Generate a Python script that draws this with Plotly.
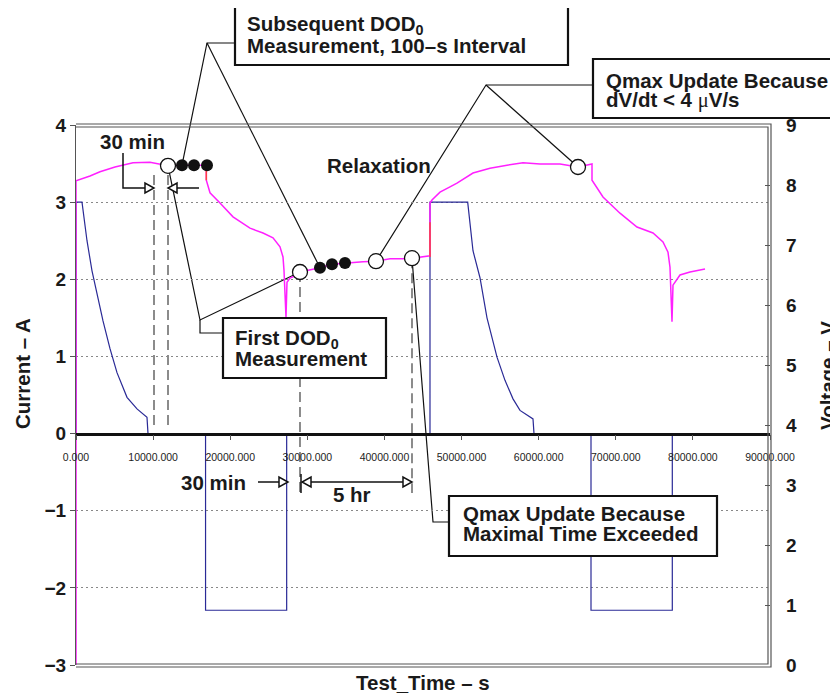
import plotly.graph_objects as go

# ---------------- data ----------------
# voltage trace (right axis, V) vs test time (s)
volt_time = [0, 0, 1816, 3112, 5058, 7392, 9597, 10893, 11930, 13746, 15302, 16900, 16900,
             17377, 18674, 20360, 22564, 24250, 25547, 26455, 26844, 26973, 27233, 27363,
             27752, 28659, 29048, 31642, 33198, 34884, 37218, 38904, 40720, 42405, 43573,
             45907, 45907, 46166, 47203, 48500, 49408, 51483, 53688, 55892, 57967, 60172,
             62766, 65100, 66916, 66916, 68341, 70546, 72751, 74826, 76122, 76771, 77030,
             77290, 77420, 78327, 79624, 81569]
volt = [0.0, 8.07, 8.15, 8.22, 8.30, 8.37, 8.38, 8.35, 8.32, 8.33, 8.33, 8.33, 8.08,
        7.87, 7.70, 7.47, 7.28, 7.20, 7.12, 6.97, 6.80, 6.58, 5.80, 6.38,
        6.45, 6.50, 6.55, 6.62, 6.68, 6.70, 6.72, 6.73, 6.77, 6.77, 6.78,
        6.82, 7.70, 7.75, 7.88, 7.97, 8.03, 8.20, 8.28, 8.33, 8.37, 8.35,
        8.35, 8.30, 8.35, 8.08, 7.80, 7.53, 7.30, 7.20, 7.05, 6.88, 6.63,
        5.72, 6.33, 6.50, 6.55, 6.60]

# current trace (left axis, A)
curr_time = [0, 0, 778, 1426, 2075, 2723, 3501, 4409, 5317, 6614, 7911, 9207, 9337,
             16800, 16800, 27320, 27320, 45907, 45907, 50795, 51483, 52391, 53299,
             54596, 55633, 56671, 57579, 59265, 59395, 66787, 66787, 77330, 77330, 82000]
curr = [0.0, 3.0, 3.0, 2.50, 2.11, 1.81, 1.46, 1.10, 0.79, 0.47, 0.32, 0.21, 0.0,
        0.0, -2.29, -2.29, 0.0, 0.0, 3.0, 3.0, 2.37, 2.02, 1.50,
        0.99, 0.69, 0.45, 0.30, 0.19, 0.0, 0.0, -2.29, -2.29, 0.0, 0.0]

# red voltage-step segments
red_time = [16900, 16900, None, 45907, 45907]
red_volt = [8.33, 8.08, None, 7.38, 6.80]

# measurement markers (voltage axis)
open_time = [11930, 29048, 38904, 43573, 65100]
open_volt = [8.32, 6.55, 6.73, 6.78, 8.30]
dot_time = [13746, 15302, 16988, 31642, 33198, 34884]
dot_volt = [8.33, 8.33, 8.33, 6.62, 6.68, 6.70]

x_ticks = [0, 10000, 20000, 30000, 40000, 50000, 60000, 70000, 80000, 90000]
x_ticklabels = ['0.000', '10000.000', '20000.000', '30000.000', '40000.000',
                '50000.000', '60000.000', '70000.000', '80000.000', '90000.000']
i_ticks = [-3, -2, -1, 0, 1, 2, 3, 4]
v_ticks = [0, 1, 2, 3, 4, 5, 6, 7, 8, 9]

X_MAX = 90000
I_MIN, I_MAX = -3, 4
V_MIN, V_MAX = 0, 9

# ---------------- geometry helpers (page pixel coords) ----------------
OFF = 8                      # browser body margin
W, H = 838 - OFF, 694 - OFF  # figure size
PL, PR, PT, PB = 76, 770, 125, 665   # plot area in page pixels
PW, PH = PR - PL, PB - PT


def px(x):
    return (x - PL) / PW


def py(y):
    return (PB - y) / PH


def dpx(t):
    return t / X_MAX


def dpy(v):
    return (v - V_MIN) / (V_MAX - V_MIN)


FONT = 'Arial, Liberation Sans, Helvetica, sans-serif'
FS = 20.5

fig = go.Figure()
fig.add_trace(go.Scatter(x=curr_time, y=curr, mode='lines', yaxis='y',
                         line=dict(color='#2A2A96', width=1.2), hoverinfo='skip'))
fig.add_trace(go.Scatter(x=volt_time, y=volt, mode='lines', yaxis='y2',
                         line=dict(color='#FF20FF', width=1.5), hoverinfo='skip'))
fig.add_trace(go.Scatter(x=red_time, y=red_volt, mode='lines', yaxis='y2',
                         line=dict(color='#FF4040', width=1.5), hoverinfo='skip'))
fig.add_trace(go.Scatter(x=dot_time, y=dot_volt, mode='markers', yaxis='y2',
                         marker=dict(color='#111', size=12, line=dict(width=0)), hoverinfo='skip'))
fig.add_trace(go.Scatter(x=open_time, y=open_volt, mode='markers', yaxis='y2',
                         marker=dict(color='white', size=15, line=dict(color='#111', width=1.3)),
                         hoverinfo='skip'))

shapes = []


def line(pts, color='#111', width=1.2, dash=None, layer='below'):
    d = 'M ' + ' L '.join(f'{x},{y}' for x, y in pts)
    ln = dict(color=color, width=width)
    if dash:
        ln['dash'] = dash
    shapes.append(dict(type='path', path=d, xref='paper', yref='paper', line=ln, layer=layer))


def pline(pix, **kw):
    line([(px(a), py(b)) for a, b in pix], **kw)


def tri(p1, p2, p3):
    d = f'M {px(p1[0])},{py(p1[1])} L {px(p2[0])},{py(p2[1])} L {px(p3[0])},{py(p3[1])} Z'
    shapes.append(dict(type='path', path=d, xref='paper', yref='paper',
                       line=dict(color='#111', width=1.5), fillcolor='white', layer='above'))


def box(x0, y0, x1, y1):
    shapes.append(dict(type='rect', xref='paper', yref='paper', x0=px(x0), x1=px(x1),
                       y0=py(y1), y1=py(y0), fillcolor='white',
                       line=dict(color='#111', width=2.2), layer='above'))


DASH = '10px,5px'
# dashed guide lines
pline([(154, 175), (154, 427)], color='#666', width=1.5, dash=DASH)
pline([(168, 175), (168, 427)], color='#666', width=1.5, dash=DASH)
line([(dpx(open_time[1]), dpy(open_volt[1])), (dpx(open_time[1]), py(493))], color='#666', width=1.5, dash=DASH)
line([(dpx(open_time[3]), dpy(open_volt[3])), (dpx(open_time[3]), py(493))], color='#666', width=1.5, dash=DASH)

# leader lines: Subsequent DOD0
vA = (px(207), py(43))
line([(px(235), py(43)), vA, (dpx(dot_time[0]), dpy(dot_volt[0]))])
line([vA, (dpx(dot_time[3]), dpy(dot_volt[3]))])
# Qmax dV/dt
vB = (px(486), py(85))
line([(px(593), py(85)), vB, (dpx(open_time[2]), dpy(open_volt[2]))])
line([vB, (dpx(open_time[4]), dpy(open_volt[4]))])
# First DOD0
vC = (px(200), py(320))
line([(dpx(open_time[0]), dpy(open_volt[0])), vC, (dpx(open_time[1]), dpy(open_volt[1]))])
pline([(200, 320), (200, 333), (223, 333)])
# Qmax maximal time
line([(dpx(open_time[3]), dpy(open_volt[3])), (px(433), py(522)), (px(449), py(522))])

# 30 min arrows (top)
pline([(123, 153), (123, 188), (145, 188)], width=1.5, layer='above')
tri((145, 183), (145, 193), (154, 188))
pline([(199, 188), (177, 188)], width=1.5, layer='above')
tri((177, 183), (177, 193), (168, 188))
# 30 min arrow (bottom)
pline([(258, 482), (279, 482)], width=1.5, layer='above')
tri((279, 477), (279, 487), (288, 482))
# 5 hr arrow
pline([(301, 474), (301, 493)], width=1.5, layer='above')
pline([(311, 482), (403, 482)], width=1.5, layer='above')
tri((311, 477), (311, 487), (302, 482))
tri((403, 477), (403, 487), (412, 482))

# frame (double line on top / right / bottom)
pline([(76, 127), (768, 127), (768, 664), (76, 664)], color='#555', width=1.2, layer='above')
pline([(76, 124), (771, 124), (771, 667), (76, 667)], color='#555', width=1.2, layer='above')

# annotation boxes
box(235, 7, 568, 65)
box(593, 59, 837, 118)
box(223, 318, 386, 378)
box(449, 496, 717, 556)

annotations = []


def ann(text, x, y, xanchor='left', size=FS, angle=0):
    annotations.append(dict(text=text, x=px(x), y=py(y), xref='paper', yref='paper',
                            xanchor=xanchor, yanchor='middle', showarrow=False, textangle=angle,
                            font=dict(family=FONT, size=size, color='#1a1a1a', weight='bold')))


ann('Subsequent DOD<sub>0</sub>', 245, 25)
ann('Measurement, 100\u2013s Interval', 245, 45)
ann('Qmax Update Because', 604, 80)
ann('dV/dt &lt; 4 <span style="font-family:Liberation Serif, serif;font-weight:normal">\u03bc</span>V/s', 604, 100)
ann('First DOD<sub>0</sub>', 233, 339)
ann('Measurement', 233, 358)
ann('Qmax Update Because', 461, 513)
ann('Maximal Time Exceeded', 461, 533)
ann('Relaxation', 379, 165, xanchor='center')
ann('30 min', 132, 141, xanchor='center')
ann('30 min', 213, 482, xanchor='center')
ann('5 hr', 352, 495, xanchor='center')
ann('Test_Time \u2013 s', 423, 682, xanchor='center')
ann('Current \u2013 A', 22, 374, xanchor='center', angle=-90)
ann('Voltage \u2013 V', 827, 376, xanchor='center', angle=-90)

TICKFONT = dict(family=FONT, size=19, color='#1a1a1a', weight='bold')

fig.update_layout(
    width=W, height=H, autosize=False,
    margin=dict(l=PL - OFF, r=W - (PR - OFF), t=PT - OFF, b=H - (PB - OFF), pad=0),
    paper_bgcolor='white', plot_bgcolor='rgba(0,0,0,0)',
    showlegend=False,
    shapes=shapes, annotations=annotations,
    xaxis=dict(range=[0, X_MAX], tickvals=x_ticks, ticktext=x_ticklabels,
               anchor='free', position=(0 - I_MIN) / (I_MAX - I_MIN),
               showline=True, linecolor='#111', linewidth=2.5,
               ticks='outside', ticklen=5, tickcolor='#555', tickwidth=1,
               ticklabelstandoff=8,
               tickfont=dict(family='Liberation Sans Narrow, Arial Narrow, Liberation Sans, Arial',
                             size=10.5, color='#222'),
               showgrid=False, zeroline=False),
    yaxis=dict(range=[I_MIN, I_MAX], tickvals=i_ticks, domain=[0, 1],
               showgrid=True, griddash='2px,3px', gridcolor='#888', gridwidth=1,
               zeroline=False, showline=True, linecolor='#555', linewidth=1.2,
               ticks='outside', ticklen=5, tickcolor='#555', tickfont=TICKFONT),
    yaxis2=dict(range=[V_MIN, V_MAX], tickvals=v_ticks, overlaying='y', side='right',
                showgrid=False, zeroline=False, showline=False,
                ticks='inside', ticklen=5, tickcolor='#555', tickfont=TICKFONT,
                ticklabelstandoff=15),
)

fig.write_html('out.html')
